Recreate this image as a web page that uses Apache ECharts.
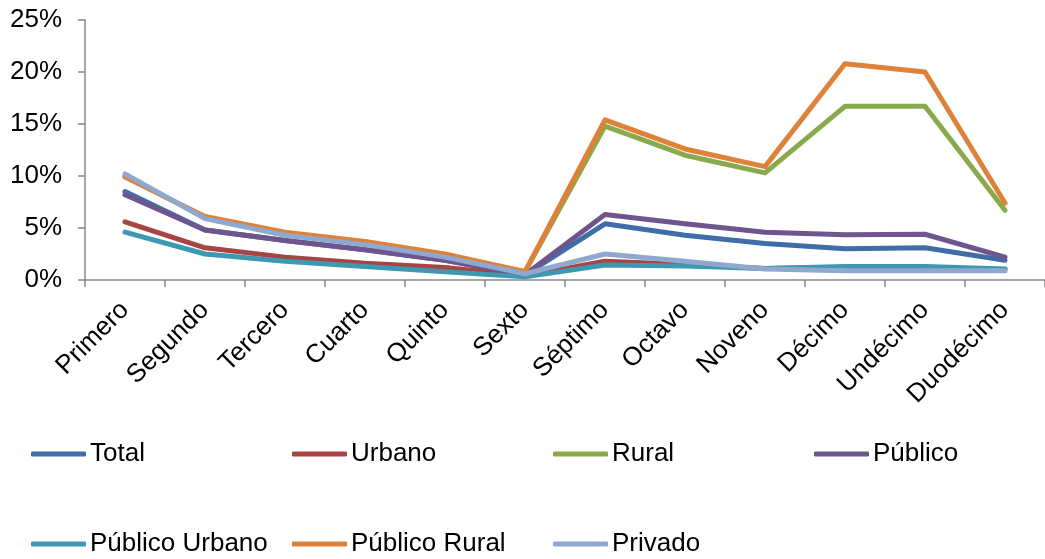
<!DOCTYPE html>
<html>
<head>
<meta charset="utf-8">
<script src="https://cdn.jsdelivr.net/npm/echarts@6/dist/echarts.min.js"></script>
<style>
html,body{margin:0;padding:0;background:#fff;}
#chart{width:1045px;height:559px;}
</style>
</head>
<body>
<div id="chart"></div>
<script>
const categories = ["Primero","Segundo","Tercero","Cuarto","Quinto","Sexto","Séptimo","Octavo","Noveno","Décimo","Undécimo","Duodécimo"];
const seriesNames = ["Total","Urbano","Rural","Público","Público Urbano","Público Rural","Privado"];
const total         = [8.5, 4.8, 3.8, 2.9, 1.9, 0.5, 5.4, 4.3, 3.5, 3.0, 3.1, 1.9];
const urbano        = [5.6, 3.1, 2.2, 1.6, 1.2, 0.4, 1.8, 1.5, 1.1, 1.2, 1.2, 1.0];
const rural         = [10.0, 6.0, 4.5, 3.6, 2.4, 0.8, 14.8, 12.0, 10.3, 16.7, 16.7, 6.7];
const publico       = [8.2, 4.8, 3.8, 2.9, 1.9, 0.5, 6.3, 5.4, 4.6, 4.35, 4.4, 2.2];
const publicoUrbano = [4.6, 2.5, 1.8, 1.3, 0.8, 0.3, 1.45, 1.35, 1.1, 1.3, 1.3, 1.05];
const publicoRural  = [9.9, 6.1, 4.6, 3.7, 2.5, 0.8, 15.4, 12.6, 10.9, 20.8, 20.0, 7.4];
const privado       = [10.2, 5.9, 4.3, 3.4, 2.2, 0.6, 2.5, 1.8, 1.05, 0.9, 0.9, 0.9];
const yTicks = [0, 5, 10, 15, 20, 25];

const values = [total, urbano, rural, publico, publicoUrbano, publicoRural, privado];
const colors = ["#3F6DA7","#A84441","#88A94C","#6F558E","#3E98B0","#DE8239","#8FA8CF"];

const font = "Liberation Sans, Arial, sans-serif";
const fs = 26;

const legendPos = [
  [31, 441], [292, 441], [553, 441], [814, 441],
  [31, 531], [292, 531], [553, 531]
];

const chart = echarts.init(document.getElementById('chart'), null, {renderer:'canvas'});
chart.setOption({
  animation: false,
  backgroundColor: '#ffffff',
  grid: { left: 85, top: 20, width: 969, height: 260, containLabel: false },
  xAxis: {
    type: 'category',
    data: categories,
    boundaryGap: true,
    axisLine: { lineStyle: { color: '#888888', width: 1.5 } },
    axisTick: { show: true, length: 7, lineStyle: { color: '#888888', width: 1.5 } },
    axisLabel: { rotate: 45, margin: 26, color: '#000', fontSize: fs, fontFamily: font, interval: 0 }
  },
  yAxis: {
    type: 'value',
    min: yTicks[0], max: yTicks[yTicks.length-1], interval: 5,
    axisLine: { show: true, lineStyle: { color: '#888888', width: 1.5 } },
    axisTick: { show: true, length: 7, lineStyle: { color: '#888888', width: 1.5 } },
    splitLine: { show: false },
    axisLabel: { formatter: '{value}%', margin: 23, color: '#000', fontSize: fs, fontFamily: font }
  },
  legend: seriesNames.map((n, i) => ({
    data: [n],
    left: legendPos[i][0], top: legendPos[i][1],
    icon: 'roundRect', itemWidth: 55, itemHeight: 5, itemGap: 0,
    padding: 0,
    textStyle: { color: '#000', fontSize: fs, fontFamily: font, padding: [0,0,0,-1] },
    selectedMode: false
  })),
  series: seriesNames.map((n, i) => ({
    name: n,
    type: 'line',
    data: values[i],
    symbol: 'none',
    color: colors[i],
    lineStyle: { width: 5, color: colors[i], cap: 'round', join: 'round' },
    z: 2 + i
  }))
});
</script>
</body>
</html>
